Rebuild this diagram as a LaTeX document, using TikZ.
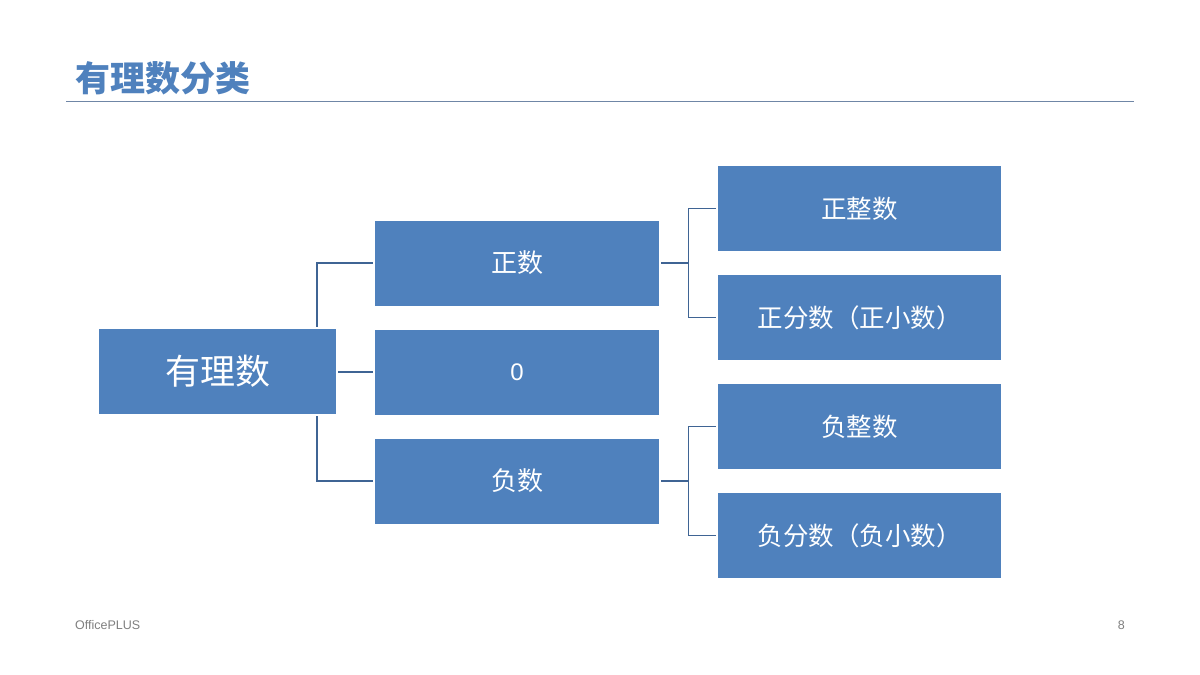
\documentclass[tikz,border=0pt]{standalone}
\usepackage{fontspec}
\setmainfont{Liberation Sans}
\newfontfamily\cjk{Noto Sans CJK SC}[BoldFont={* Black}]
\usetikzlibrary{positioning}
\definecolor{boxblue}{HTML}{4F81BD}
\definecolor{linkblue}{HTML}{3F6494}
\definecolor{rulegrey}{HTML}{6F86A6}
\definecolor{footgrey}{HTML}{7F7F7F}
\tikzstyle{box}=[rectangle,fill=boxblue,text=white,inner sep=0pt,font=\cjk\fontsize{26}{30}\selectfont]
\tikzstyle{root box}=[box,minimum width=237pt,minimum height=85pt,font=\cjk\fontsize{35}{40}\selectfont]
\tikzstyle{mid box}=[box,minimum width=284pt,minimum height=85pt]
\tikzstyle{leaf box}=[box,minimum width=283pt,minimum height=85pt,font=\cjk\fontsize{25.5}{30}\selectfont]
\tikzstyle{link}=[draw=linkblue,line width=1.1pt,shorten >=2pt,shorten <=2pt]
\tikzstyle{foot}=[text=footgrey,inner sep=0pt,font=\fontsize{12.5}{14}\selectfont]

\begin{document}
\begin{tikzpicture}[x=1pt,y=-1pt]
    \useasboundingbox (0,0) rectangle (1200,675);
    \fill[white] (0,0) rectangle (1200,675);

    % Title and the rule under it
    \node[anchor=west,inner sep=0pt,text=boxblue,font=\cjk\bfseries\fontsize{35}{40}\selectfont] (title) at (75,78) {有理数分类};
    \coordinate (ruleL) at (66,101);
    \coordinate (ruleR) at (1134,101);
    \draw[draw=rulegrey,line width=1pt] (ruleL) -- (ruleR);

    % Draw the root and the middle column
    \node[root box] (root) at (217.5,371.5) {有理数};
    \node[mid box] (pos) at (517,263) {正数};
    \node[mid box,font=\fontsize{24}{28}\selectfont] (zero) at (517,372) {0};
    \node[mid box] (neg) at (517,481) {负数};

    % Draw the right column
    \foreach \name / \y / \txt in {posint/208.5/正整数,posfrac/317.5/正分数（正小数）,negint/426.5/负整数,negfrac/535.5/负分数（负小数）}
        \node[leaf box] (\name) at (859.5,\y) {\txt};

    % Connect the root with the middle column
    \draw[link] ([xshift=99.5pt]root.north) |- (pos.west);
    \draw[link] (root.east |- zero.west) -- (zero.west);
    \draw[link] ([xshift=99.5pt]root.south) |- (neg.west);

    % Connect the middle column with the right column
    \draw[link,shorten >=0pt] (pos.east) -- ++(29,0) coordinate (posfork);
    \draw[link,shorten <=0pt] (posfork) |- (posint.west);
    \draw[link,shorten <=0pt] (posfork) |- (posfrac.west);
    \draw[link,shorten >=0pt] (neg.east) -- ++(29,0) coordinate (negfork);
    \draw[link,shorten <=0pt] (negfork) |- (negint.west);
    \draw[link,shorten <=0pt] (negfork) |- (negfrac.west);

    % Footer
    \node[foot,anchor=west] (brand) at (75,625) {OfficePLUS};
    \node[foot,anchor=east] (pageno) at (1125,625) {8};
\end{tikzpicture}
\end{document}
